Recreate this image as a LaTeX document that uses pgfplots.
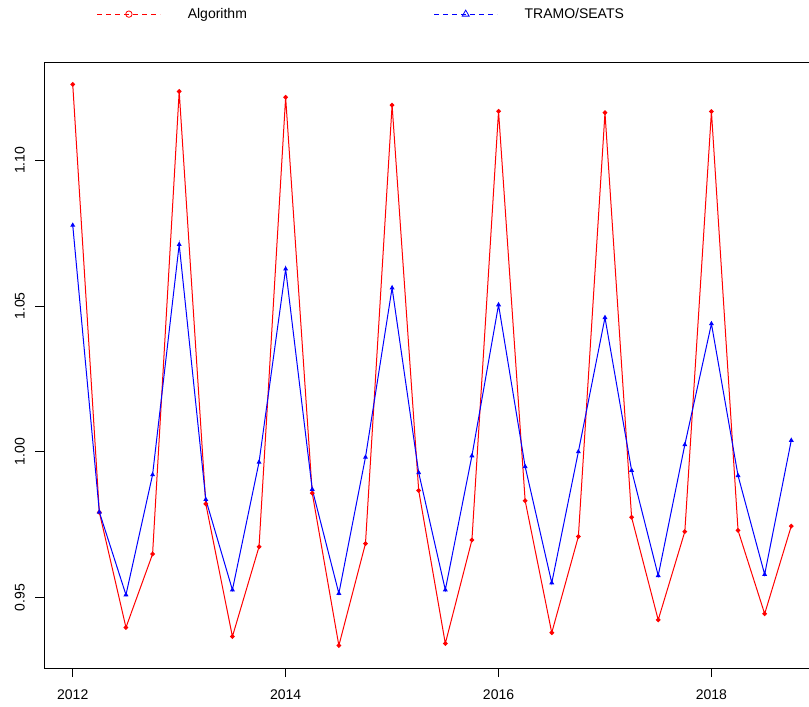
\documentclass[border=0pt]{standalone}
\usepackage{pgfplots}
\pgfplotsset{compat=1.18}
\usepackage{fontspec}
\setmainfont{Liberation Sans}

\pgfplotstableread{
x y
2012.00 1.1260
2012.25 0.9792
2012.50 0.9397
2012.75 0.9649
2013.00 1.1236
2013.25 0.9821
2013.50 0.9366
2013.75 0.9674
2014.00 1.1216
2014.25 0.9858
2014.50 0.9335
2014.75 0.9685
2015.00 1.1189
2015.25 0.9867
2015.50 0.9342
2015.75 0.9697
2016.00 1.1168
2016.25 0.9832
2016.50 0.9379
2016.75 0.9709
2017.00 1.1163
2017.25 0.9775
2017.50 0.9423
2017.75 0.9726
2018.00 1.1167
2018.25 0.9730
2018.50 0.9444
2018.75 0.9745
}\algdata

\pgfplotstableread{
x y
2012.00 1.0777
2012.25 0.9793
2012.50 0.9509
2012.75 0.9921
2013.00 1.0711
2013.25 0.9836
2013.50 0.9526
2013.75 0.9964
2014.00 1.0627
2014.25 0.9871
2014.50 0.9514
2014.75 0.9981
2015.00 1.0562
2015.25 0.9928
2015.50 0.9526
2015.75 0.9986
2016.00 1.0504
2016.25 0.9949
2016.50 0.9550
2016.75 1.0000
2017.00 1.0460
2017.25 0.9936
2017.50 0.9575
2017.75 1.0024
2018.00 1.0439
2018.25 0.9918
2018.50 0.9579
2018.75 1.0039
}\tsdata

\begin{document}
\begin{tikzpicture}
\useasboundingbox (0,0) rectangle (809bp,-707bp);
\begin{axis}[
  at={(44bp,-668bp)}, anchor=south west,
  scale only axis, width=776bp, height=606bp,
  xmin=2011.73, xmax=2019.02,
  ymin=0.9258, ymax=1.1337,
  axis line style={black, line width=0.8bp},
  tick style={black, line width=0.8bp},
  tick align=outside, major tick length=9bp,
  xtick pos=bottom, ytick pos=left,
  xtick={2012,2014,2016,2018},
  ytick={0.95,1.00,1.05,1.10},
  minor tick num=0,
  /pgf/number format/assume math mode=true,
  xticklabel style={/pgf/number format/1000 sep={}, font=\fontsize{14bp}{16bp}\selectfont, inner sep=0pt, anchor=north, yshift=-13bp},
  yticklabel style={/pgf/number format/.cd, fixed, fixed zerofill, precision=2, /tikz/.cd, font=\fontsize{14bp}{16bp}\selectfont, xshift=-10bp, rotate=90, anchor=south, inner sep=0pt},
  scaled y ticks=false,
  legend style={draw=none, fill=none, inner sep=0pt, outer sep=0pt,
    at={(axis description cs:0.0683,1.079)}, anchor=west,
    font=\fontsize{14bp}{16bp}\selectfont,
    nodes={inner sep=0pt},
    /tikz/every odd column/.append style={column sep=27bp}},
  legend columns=2,
  legend image code/.code={\draw[mark repeat=2,mark phase=2,#1] plot coordinates {(0bp,0bp) (31.5bp,0bp) (63bp,0bp)};},
]
\addlegendimage{draw=red, line width=0.8bp, dash pattern=on 4.5bp off 4.5bp, mark=o, mark size=3.2bp, mark options={solid, draw=red}}
\addlegendentry{\makebox[246bp][l]{Algorithm}}
\addlegendimage{draw=blue, line width=0.8bp, dash pattern=on 4.5bp off 4.5bp, mark=triangle, mark size=4bp, mark options={solid, draw=blue}}
\addlegendentry{TRAMO/SEATS}
\addplot[red, line width=1bp, mark=*, mark size=1.8bp, forget plot] table[x=x,y=y] {\algdata};
\addplot[blue, line width=1bp, mark=triangle*, mark size=1.9bp, forget plot] table[x=x,y=y] {\tsdata};
\end{axis}
\end{tikzpicture}
\end{document}
